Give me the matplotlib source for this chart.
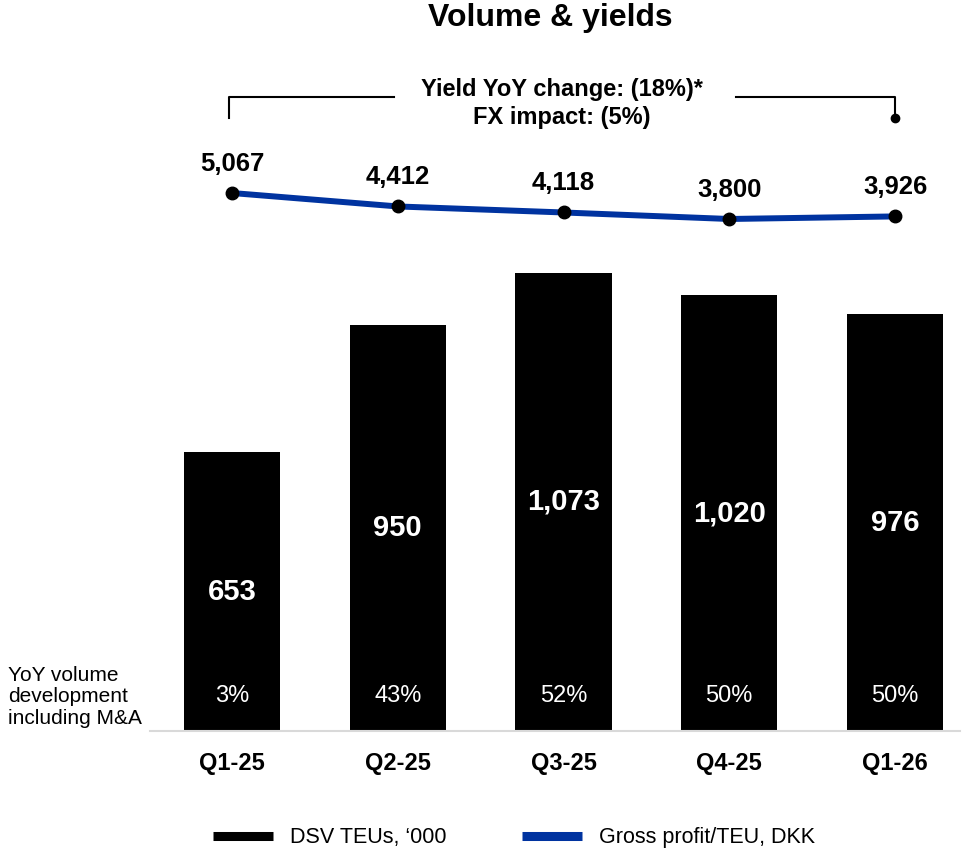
import matplotlib
matplotlib.use("Agg")
import matplotlib.pyplot as plt
from matplotlib.lines import Line2D

plt.rcParams['font.family'] = ['Liberation Sans', 'DejaVu Sans']

quarters = ["Q1-25", "Q2-25", "Q3-25", "Q4-25", "Q1-26"]
teus = [653, 950, 1073, 1020, 976]
teu_labels = ["653", "950", "1,073", "1,020", "976"]
yoy_volume = ["3%", "43%", "52%", "50%", "50%"]
gp_per_teu = [5067, 4412, 4118, 3800, 3926]
gp_labels = ["5,067", "4,412", "4,118", "3,800", "3,926"]

BLUE = "#0033A0"
W, H = 966, 848
fig = plt.figure(figsize=(W / 100, H / 100), dpi=100)

# axes in pixel geometry
left_px, right_px, top_px, bot_px = 150, 960, 60, 731
ax = fig.add_axes([left_px / W, 1 - bot_px / H, (right_px - left_px) / W, (bot_px - top_px) / H])
ax2 = ax.twinx()

x = list(range(len(quarters)))
ax.bar(x, teus, width=0.58, color="black", zorder=2)
ax.set_xlim(-0.495, 4.392)
ax.set_ylim(0, 1571)

for i, v in enumerate(teus):
    ax.text(i, v / 2, teu_labels[i], ha="center", va="center", color="white",
            fontsize=21, fontweight="bold", zorder=3)
    ax.text(i, 82, yoy_volume[i], ha="center", va="center", color="white",
            fontsize=17, zorder=3)

ax2.plot(x, gp_per_teu, color=BLUE, lw=4.3, marker="o", markersize=9,
         markerfacecolor="black", markeredgecolor="black", zorder=3)
ax2.set_ylim(-21176, 11556)
for i, v in enumerate(gp_per_teu):
    ax2.annotate(gp_labels[i], (i, v), xytext=(0, 21), textcoords="offset points",
                 ha="center", va="center", fontsize=18.5, fontweight="bold")

for a in (ax, ax2):
    for s in a.spines.values():
        s.set_visible(False)
    a.set_yticks([])
ax.spines["bottom"].set_visible(True)
ax.spines["bottom"].set_color("#d9d9d9")
ax.spines["bottom"].set_linewidth(1.5)
ax.set_xticks(x)
ax.set_xticklabels(quarters, fontsize=17, fontweight="bold")
ax.tick_params(axis="x", length=0, pad=15)

# bracket annotation (bar-axis data coords)
yb_top, yb_bot = 1485, 1436
xl, xr = -0.02, 4.0
ax.plot([xl, xl, 0.98], [yb_bot, yb_top, yb_top], color="black", lw=1.5, clip_on=False)
ax.plot([3.04, xr, xr], [yb_top, yb_top, yb_bot], color="black", lw=1.5, clip_on=False)
ax.plot([xr], [yb_bot], marker="o", color="black", markersize=6, clip_on=False)
ax.text(1.99, 1501, "Yield YoY change: (18%)*", ha="center", va="center",
        fontsize=17, fontweight="bold")
ax.text(1.99, 1436, "FX impact: (5%)", ha="center", va="center",
        fontsize=17, fontweight="bold")

fig.text(550 / W, 1 - 18 / H, "Volume & yields", ha="center", va="center",
         fontsize=23, fontweight="bold")

fig.text(8 / W, 1 - 697 / H, "YoY volume\ndevelopment\nincluding M&A", ha="left",
         va="center", fontsize=15, linespacing=1.15)

handles = [Line2D([0], [0], color="black", lw=6.5, solid_capstyle="butt"),
           Line2D([0], [0], color=BLUE, lw=6.5, solid_capstyle="butt")]
fig.legend(handles, ["DSV TEUs, \u2018000", "Gross profit/TEU, DKK"], ncol=2,
           loc="center", bbox_to_anchor=(514 / W, 1 - 838 / H), frameon=False,
           fontsize=15.5, handlelength=2.8, handletextpad=0.8, columnspacing=3.5)

fig.savefig("out.png", dpi=100)
